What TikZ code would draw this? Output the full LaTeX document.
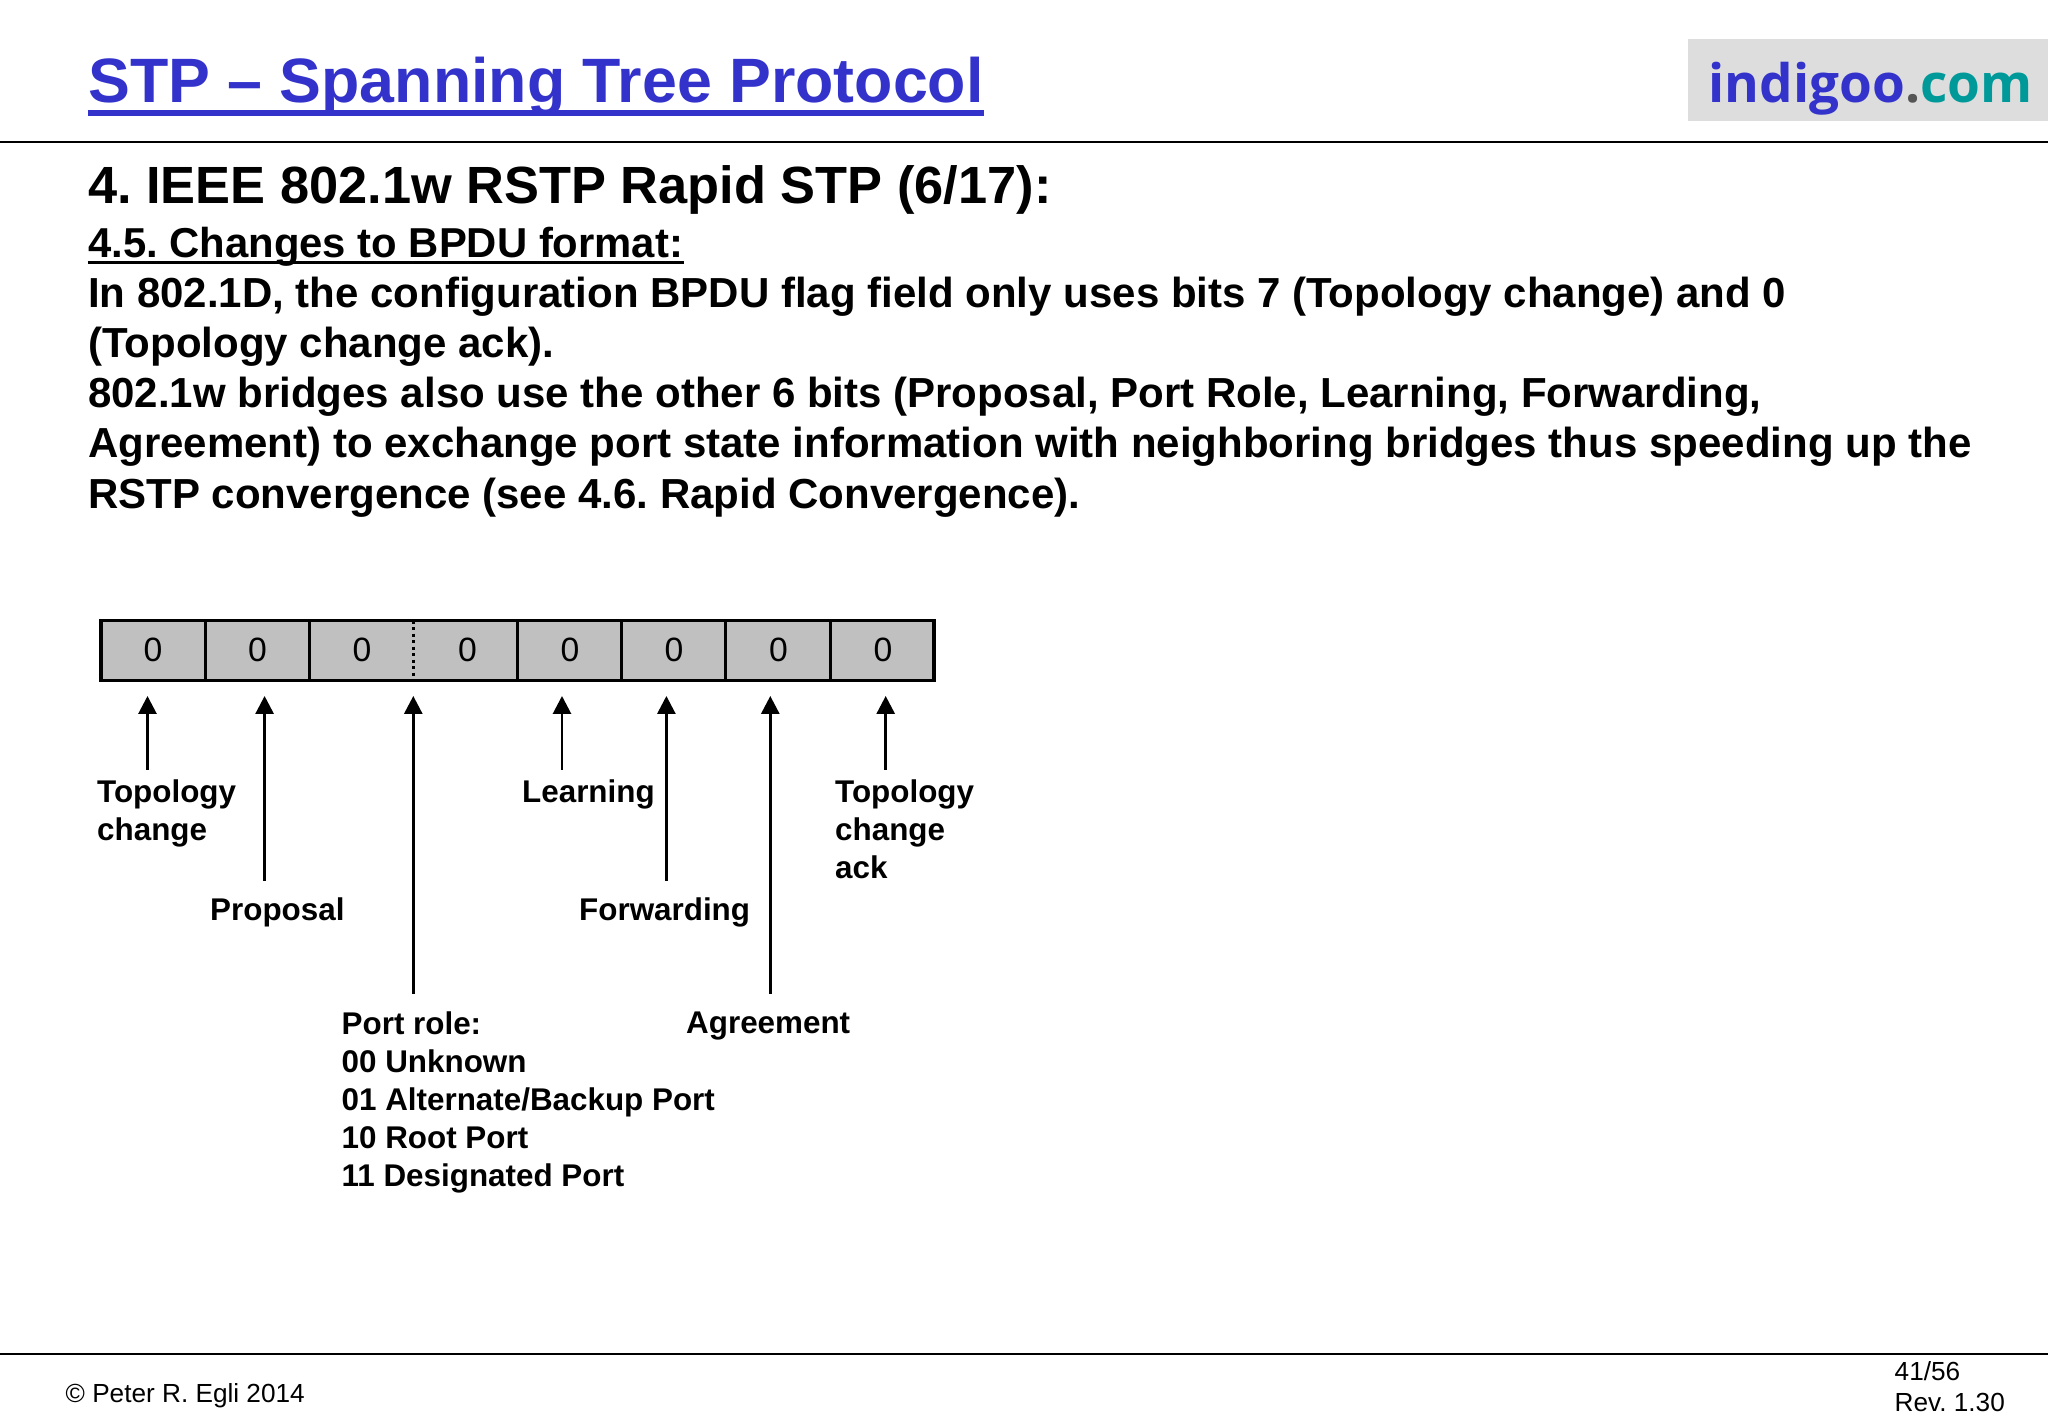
\documentclass[tikz,border=0pt]{standalone}
\usepackage{fontspec}
\setmainfont{Liberation Sans}
\newfontfamily\logofont{Open Sans}
\usetikzlibrary{arrows.meta,positioning}
\definecolor{titleblue}{HTML}{3333CC}
\definecolor{logoteal}{HTML}{009999}
\definecolor{logodot}{HTML}{555555}
\definecolor{logogrey}{HTML}{DDDDDD}
\definecolor{cellgrey}{HTML}{C0C0C0}
\frenchspacing

\begin{document}
\begin{tikzpicture}[x=1cm,y=1cm]
\tikzset{
  titletext/.style={anchor=base west,inner sep=0pt,font=\fontsize{17.84}{20}\selectfont\bfseries,text=titleblue},
  headtext/.style={anchor=base west,inner sep=0pt,font=\fontsize{14.9}{17}\selectfont\bfseries},
  subhead/.style={anchor=base west,inner sep=0pt,font=\fontsize{11.9}{14.3}\selectfont\bfseries},
  bodytext/.style={anchor=north west,inner sep=0pt,align=left,font=\fontsize{11.95}{14.3}\selectfont\bfseries},
  fieldlabel/.style={anchor=north west,inner sep=0pt,align=left,font=\fontsize{8.93}{10.8}\selectfont\bfseries},
  bitvalue/.style={inner sep=0pt,font=\fontsize{9.6}{11}\selectfont},
  footnote/.style={anchor=north west,inner sep=0pt,align=left,font=\fontsize{7.45}{8.8}\selectfont},
  register/.style={draw,fill=cellgrey,line width=1pt,outer sep=0pt,minimum width=8.33cm,minimum height=0.6cm,inner sep=0pt},
  divider/.style={line width=0.85pt},
  fieldarrow/.style={-{Stealth[length=1.8mm,width=1.8mm,inset=0pt]},line width=0.8pt},
  hrule/.style={line width=0.55pt}
}
\useasboundingbox (0,0) rectangle (20.48,14.18);
% header
\node[titletext] (title) at (0.875,13.15) {STP -- Spanning Tree Protocol};
\draw[titleblue,line width=1.7pt] ([yshift=-0.10cm]title.base west) -- ([yshift=-0.10cm]title.base east);
\node[fill=logogrey,minimum width=3.6cm,minimum height=0.82cm,inner sep=0pt] (logo) at (18.68,13.38) {};
\node[anchor=base west,inner sep=0pt,font=\fontsize{15.1}{20}\logofont\bfseries] (logotext) at (17.08,13.15)
  {\textcolor{titleblue}{indigoo}\textcolor{logodot}{.}\textcolor{logoteal}{com}};
\coordinate (rule_tl) at (0,12.76);
\coordinate (rule_tr) at (20.48,12.76);
\draw[hrule] (rule_tl) -- (rule_tr);
% text block
\node[headtext] (heading) at (0.875,12.145) {4. IEEE 802.1w RSTP Rapid STP (6/17):};
\node[subhead] (section) at (0.875,11.605) {4.5. Changes to BPDU format:};
\draw[line width=0.7pt] ([yshift=-0.05cm]section.base west) -- ([yshift=-0.05cm]section.base east);
\node[bodytext] (body) at (0.875,11.42) {In 802.1D, the configuration BPDU flag field only uses bits 7 (Topology change) and 0\\
(Topology change ack).\\
802.1w bridges also use the other 6 bits (Proposal, Port Role, Learning, Forwarding,\\
Agreement) to exchange port state information with neighboring bridges thus speeding up the\\
RSTP convergence (see 4.6. Rapid Convergence).};
% flag field
\node[register] (reg) at (5.177,7.673) {};
\draw[divider] ([xshift=1.043cm]reg.north west) -- ([xshift=1.043cm]reg.south west);
\draw[divider] ([xshift=2.082cm]reg.north west) -- ([xshift=2.082cm]reg.south west);
\draw[divider,densely dotted] ([xshift=3.121cm]reg.north west) -- ([xshift=3.121cm]reg.south west);
\draw[divider] ([xshift=4.160cm]reg.north west) -- ([xshift=4.160cm]reg.south west);
\draw[divider] ([xshift=5.205cm]reg.north west) -- ([xshift=5.205cm]reg.south west);
\draw[divider] ([xshift=6.244cm]reg.north west) -- ([xshift=6.244cm]reg.south west);
\draw[divider] ([xshift=7.294cm]reg.north west) -- ([xshift=7.294cm]reg.south west);
\node[bitvalue] (bit_7) at (1.53,7.68) {0};
\node[bitvalue] (bit_6) at (2.575,7.68) {0};
\node[bitvalue] (bit_5) at (3.62,7.68) {0};
\node[bitvalue] (bit_4) at (4.675,7.68) {0};
\node[bitvalue] (bit_3) at (5.70,7.68) {0};
\node[bitvalue] (bit_2) at (6.74,7.68) {0};
\node[bitvalue] (bit_1) at (7.785,7.68) {0};
\node[bitvalue] (bit_0) at (8.83,7.68) {0};
% field names
\node[fieldlabel] (l_topo) at (0.965,6.388) {Topology\\change};
\node[fieldlabel] (l_prop) at (2.095,5.205) {Proposal};
\node[fieldlabel] (l_role) at (3.41,4.068) {Port role:\\00 Unknown\\01 Alternate/Backup Port\\10 Root Port\\11 Designated Port};
\node[fieldlabel] (l_lear) at (5.215,6.388) {Learning};
\node[fieldlabel] (l_forw) at (5.785,5.205) {Forwarding};
\node[fieldlabel] (l_agre) at (6.855,4.068) {Agreement};
\node[fieldlabel] (l_tack) at (8.345,6.388) {Topology\\change\\ack};
% arrow ends
\coordinate (t_topo) at (1.475,6.48);
\coordinate (h_topo) at (1.475,7.22);
\coordinate (t_prop) at (2.646,5.37);
\coordinate (h_prop) at (2.646,7.22);
\coordinate (t_role) at (4.133,4.24);
\coordinate (h_role) at (4.133,7.22);
\coordinate (t_lear) at (5.62,6.48);
\coordinate (h_lear) at (5.62,7.22);
\coordinate (t_forw) at (6.664,5.37);
\coordinate (h_forw) at (6.664,7.22);
\coordinate (t_agre) at (7.703,4.24);
\coordinate (h_agre) at (7.703,7.22);
\coordinate (t_tack) at (8.857,6.48);
\coordinate (h_tack) at (8.857,7.22);
\draw[fieldarrow] (t_topo) -- (h_topo);
\draw[fieldarrow] (t_prop) -- (h_prop);
\draw[fieldarrow] (t_role) -- (h_role);
\draw[fieldarrow] (t_lear) -- (h_lear);
\draw[fieldarrow] (t_forw) -- (h_forw);
\draw[fieldarrow] (t_agre) -- (h_agre);
\draw[fieldarrow] (t_tack) -- (h_tack);
% footer
\coordinate (rule_bl) at (0,0.64);
\coordinate (rule_br) at (20.48,0.64);
\draw[hrule] (rule_bl) -- (rule_br);
\node[footnote] (copyright) at (0.65,0.35) {\textcopyright{} Peter R. Egli 2014};
\node[footnote] (pageno) at (18.94,0.57) {41/56\\Rev. 1.30};
\end{tikzpicture}
\end{document}
